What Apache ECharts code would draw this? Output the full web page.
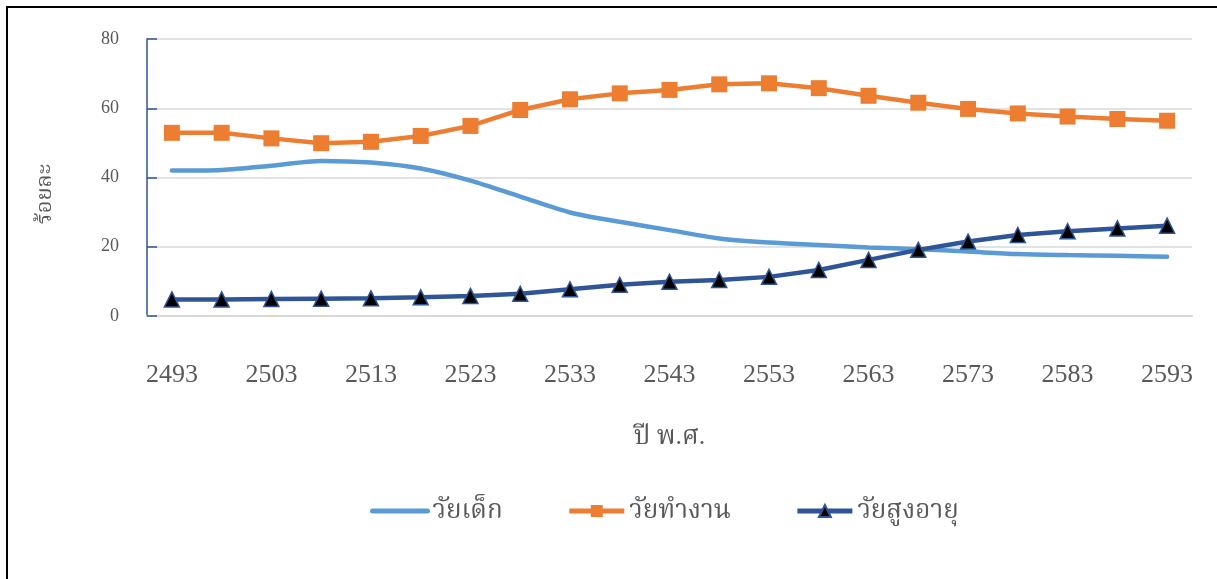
<!DOCTYPE html>
<html>
<head>
<meta charset="utf-8">
<script src="https://cdn.jsdelivr.net/npm/echarts@6/dist/echarts.min.js"></script>
<style>
  html, body { margin: 0; padding: 0; background: #fff; }
  #chart { position: absolute; left: 0; top: 0; width: 1217px; height: 579px; }
  #frame { position: absolute; left: 6px; top: 6px; width: 1211px; height: 573px;
           border-left: 2px solid #000; border-top: 2px solid #000; pointer-events: none; }
</style>
</head>
<body>
<div id="chart"></div>
<div id="frame"></div>
<script>
// ปี พ.ศ. ทุก 5 ปี
const years = ['2493', '2498', '2503', '2508', '2513', '2518', '2523', '2528', '2533', '2538', '2543',
  '2548', '2553', '2558', '2563', '2568', '2573', '2578', '2583', '2588', '2593']

// ร้อยละของประชากรแต่ละกลุ่มวัย
const children = [42.0, 42.2, 43.4, 44.8, 44.3, 42.6, 39.1, 34.5, 29.9, 27.2, 24.8,
  22.4, 21.2, 20.5, 19.8, 19.3, 18.6, 17.9, 17.6, 17.4, 17.1]
const working = [52.9, 52.9, 51.3, 49.9, 50.3, 52.0, 54.9, 59.5, 62.6, 64.3, 65.3,
  66.9, 67.2, 65.8, 63.6, 61.6, 59.8, 58.5, 57.6, 56.9, 56.4]
const elderly = [4.8, 4.8, 4.9, 5.0, 5.1, 5.4, 5.8, 6.4, 7.7, 9.0, 9.9,
  10.4, 11.3, 13.3, 16.2, 19.1, 21.5, 23.4, 24.5, 25.3, 26.1]

const seriesNames = ['วัยเด็ก', 'วัยทำงาน', 'วัยสูงอายุ']
const yTicks = { min: 0, max: 80, step: 20 }

const serif = '"Liberation Serif", "DejaVu Serif", "Noto Serif Thai", "Noto Sans Thai", serif'
const textGray = '#595959'

const chart = echarts.init(document.getElementById('chart'))

const option = {
  animation: false,
  backgroundColor: '#fff',
  grid: { left: 147, right: 25, top: 39, bottom: 263 },
  legend: {
    bottom: 50,
    left: 365,
    itemWidth: 55,
    itemHeight: 15,
    itemGap: 64,
    textStyle: { fontFamily: serif, fontSize: 26, color: textGray },
    data: [
      { name: seriesNames[0], itemStyle: { opacity: 0 }, lineStyle: { width: 5 } },
      { name: seriesNames[1], lineStyle: { width: 5 } },
      { name: seriesNames[2], lineStyle: { width: 5 } }
    ]
  },
  xAxis: {
    type: 'category',
    data: years,
    boundaryGap: true,
    name: 'ปี พ.ศ.',
    nameLocation: 'middle',
    nameGap: 108,
    nameTextStyle: { fontFamily: serif, fontSize: 26, color: textGray },
    axisLine: { lineStyle: { color: '#d9d9d9', width: 2 } },
    axisTick: { inside: true, length: 12, interval: 0, lineStyle: { color: '#d9d9d9', width: 2 } },
    axisLabel: { interval: 1, margin: 46, fontFamily: serif, fontSize: 26, color: textGray }
  },
  yAxis: {
    type: 'value',
    min: yTicks.min,
    max: yTicks.max,
    interval: yTicks.step,
    axisLine: { show: true, lineStyle: { color: '#2f5597', width: 1.5 } },
    axisTick: { show: true, inside: true, length: 10, lineStyle: { color: '#2f5597', width: 1.5 } },
    splitLine: { lineStyle: { color: '#d9d9d9', width: 1.5 } },
    axisLabel: { margin: 28, fontFamily: serif, fontSize: 18, color: textGray }
  },
  graphic: [
    {
      type: 'text',
      x: 45,
      y: 194,
      rotation: Math.PI / 2,
      style: {
        text: 'ร้อยละ',
        fontFamily: serif,
        fontSize: 22,
        fill: textGray,
        align: 'center',
        verticalAlign: 'middle'
      }
    }
  ],
  series: [
    {
      name: seriesNames[0],
      type: 'line',
      data: children,
      smooth: 0.3,
      symbol: 'none',
      lineStyle: { color: '#5b9bd5', width: 4.5, cap: 'round' },
      itemStyle: { color: '#5b9bd5' }
    },
    {
      name: seriesNames[1],
      type: 'line',
      data: working,
      symbol: 'rect',
      symbolSize: 16,
      lineStyle: { color: '#ed7d31', width: 4.5 },
      itemStyle: { color: '#ed7d31' }
    },
    {
      name: seriesNames[2],
      type: 'line',
      data: elderly,
      symbol: 'triangle',
      symbolSize: 15,
      lineStyle: { color: '#2f5597', width: 4.5 },
      itemStyle: { color: '#000', borderColor: '#2f5597', borderWidth: 1.5 },
      z: 3
    }
  ]
}

chart.setOption(option)
</script>
</body>
</html>
